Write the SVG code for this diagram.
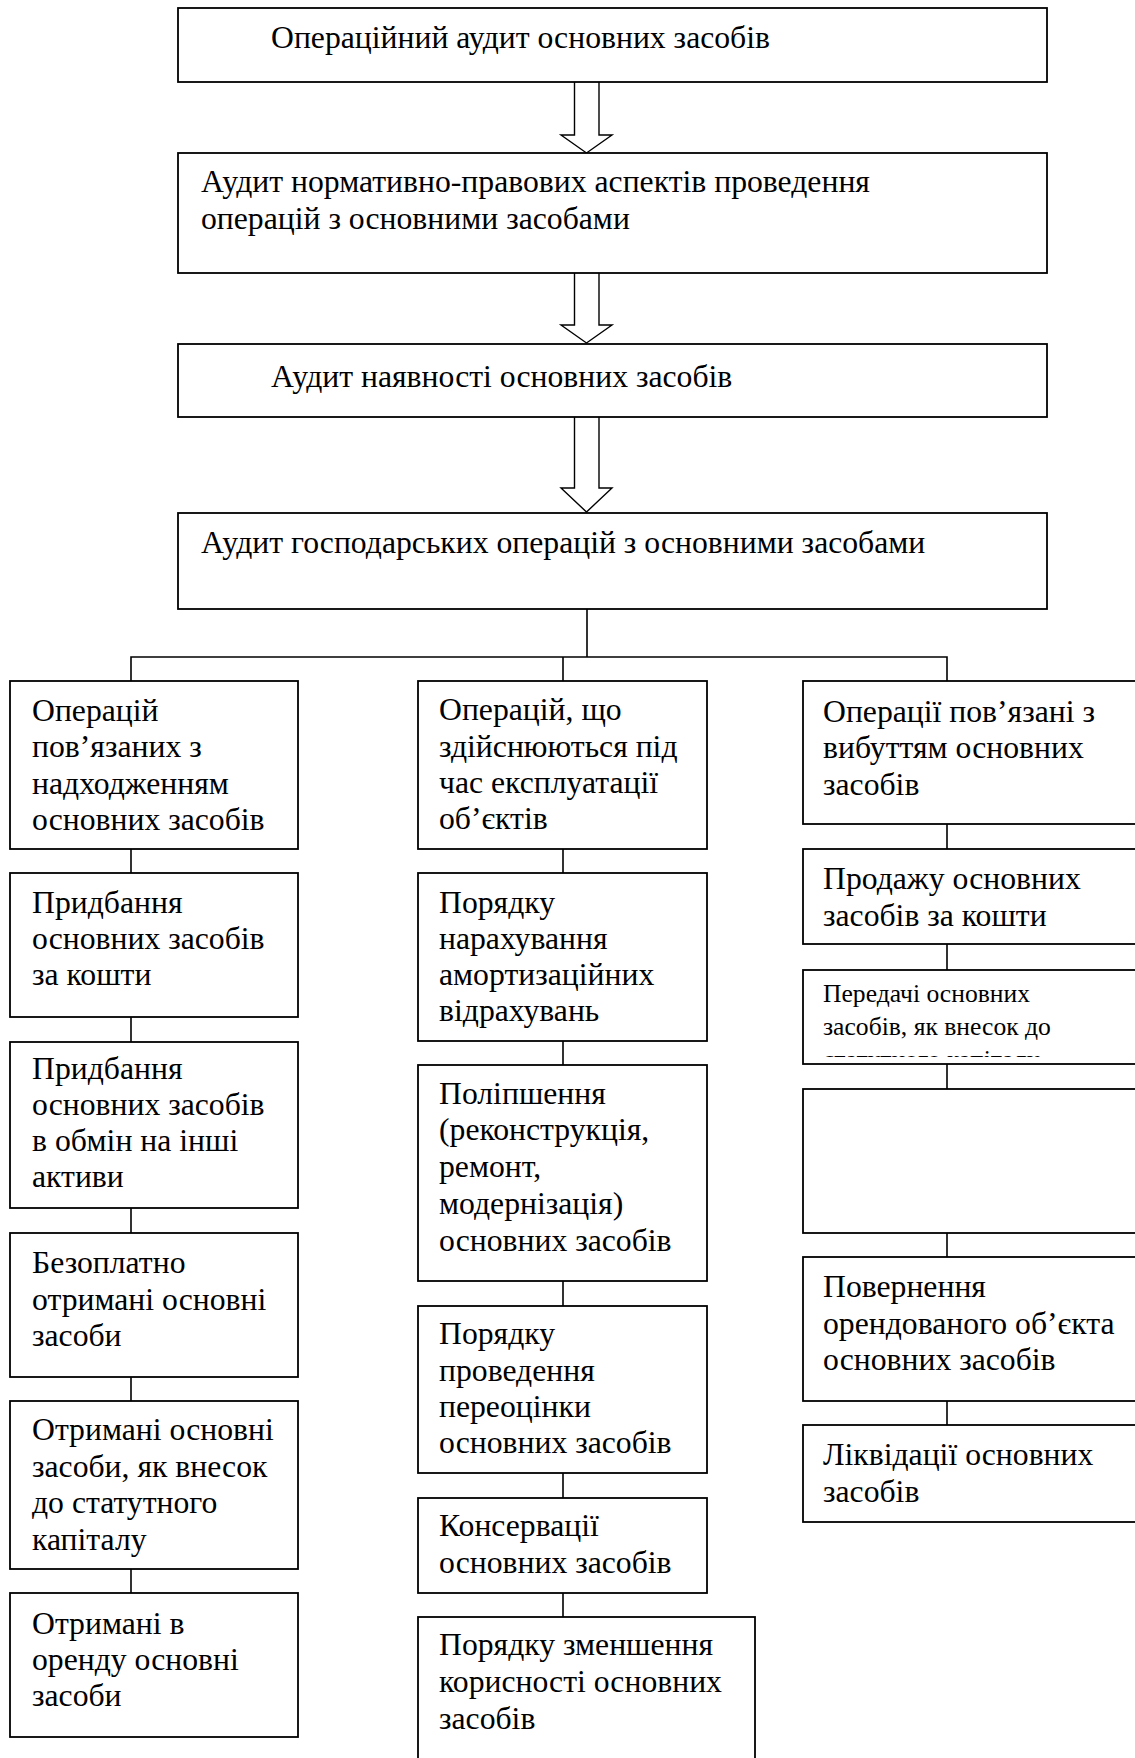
<svg xmlns="http://www.w3.org/2000/svg" width="1135" height="1758" viewBox="0 0 1135 1758">
<style>
.box{fill:#fff;stroke:#000;stroke-width:1.8}
.t{font-family:"Liberation Serif","Times New Roman",serif;font-size:31.7px;fill:#000}
.s{font-family:"Liberation Serif","Times New Roman",serif;font-size:25.6px;fill:#000}
.ln{fill:none;stroke:#000;stroke-width:1.6}
.arr{fill:#fff;stroke:#000;stroke-width:1.4;stroke-linejoin:miter}
</style>
<defs>
<clipPath id="r3clip"><rect x="803" y="970" width="340" height="87"/></clipPath>
</defs>
<rect width="1135" height="1758" fill="#fff"/>
<g id="connectors">
<path class="arr" d="M574.5,82 V135 H561 L586.5,153 L612,135 H599 V82"/>
<path class="arr" d="M574.5,273 V325 H561 L586.5,343 L612,325 H599 V273"/>
<path class="arr" d="M574.5,417 V488 H561 L586.5,512 L612,488 H599 V417"/>
<path class="ln" d="M587,609 V657 M131,681 V657 H947 V681 M563,657 V681"/>
<path class="ln" d="M131,849 V873 M131,1017 V1042 M131,1208 V1233 M131,1377 V1401 M131,1569 V1593"/>
<path class="ln" d="M563,849 V873 M563,1041 V1065 M563,1281 V1306 M563,1473 V1498 M563,1593 V1617"/>
<path class="ln" d="M947,824 V849 M947,944 V970 M947,1064 V1089 M947,1233 V1257 M947,1401 V1425"/>
</g>
<g id="n-top1"><rect class="box" x="178" y="8" width="869" height="74"/><text class="t" x="271" y="48">Операційний аудит основних засобів</text></g>
<g id="n-top2"><rect class="box" x="178" y="153" width="869" height="120"/><text class="t" x="201" y="192">Аудит нормативно-правових аспектів проведення</text><text class="t" x="201" y="229">операцій з основними засобами</text></g>
<g id="n-top3"><rect class="box" x="178" y="344" width="869" height="73"/><text class="t" x="271" y="387">Аудит наявності основних засобів</text></g>
<g id="n-top4"><rect class="box" x="178" y="513" width="869" height="96"/><text class="t" x="201" y="553">Аудит господарських операцій з основними засобами</text></g>

<g id="n-l1"><rect class="box" x="10" y="681" width="288" height="168"/><text class="t" x="32" y="721">Операцій</text><text class="t" x="32" y="757">пов’язаних з</text><text class="t" x="32" y="794">надходженням</text><text class="t" x="32" y="830">основних засобів</text></g>
<g id="n-l2"><rect class="box" x="10" y="873" width="288" height="144"/><text class="t" x="32" y="913">Придбання</text><text class="t" x="32" y="949">основних засобів</text><text class="t" x="32" y="985">за кошти</text></g>
<g id="n-l3"><rect class="box" x="10" y="1042" width="288" height="166"/><text class="t" x="32" y="1079">Придбання</text><text class="t" x="32" y="1115">основних засобів</text><text class="t" x="32" y="1151">в обмін на інші</text><text class="t" x="32" y="1187">активи</text></g>
<g id="n-l4"><rect class="box" x="10" y="1233" width="288" height="144"/><text class="t" x="32" y="1273">Безоплатно</text><text class="t" x="32" y="1310">отримані основні</text><text class="t" x="32" y="1346">засоби</text></g>
<g id="n-l5"><rect class="box" x="10" y="1401" width="288" height="168"/><text class="t" x="32" y="1440">Отримані основні</text><text class="t" x="32" y="1477">засоби, як внесок</text><text class="t" x="32" y="1513">до статутного</text><text class="t" x="32" y="1550">капіталу</text></g>
<g id="n-l6"><rect class="box" x="10" y="1593" width="288" height="144"/><text class="t" x="32" y="1634">Отримані в</text><text class="t" x="32" y="1670">оренду основні</text><text class="t" x="32" y="1706">засоби</text></g>

<g id="n-m1"><rect class="box" x="418" y="681" width="289" height="168"/><text class="t" x="439" y="720">Операцій, що</text><text class="t" x="439" y="757">здійснюються під</text><text class="t" x="439" y="793">час експлуатації</text><text class="t" x="439" y="829">об’єктів</text></g>
<g id="n-m2"><rect class="box" x="418" y="873" width="289" height="168"/><text class="t" x="439" y="913">Порядку</text><text class="t" x="439" y="949">нарахування</text><text class="t" x="439" y="985">амортизаційних</text><text class="t" x="439" y="1021">відрахувань</text></g>
<g id="n-m3"><rect class="box" x="418" y="1065" width="289" height="216"/><text class="t" x="439" y="1104">Поліпшення</text><text class="t" x="439" y="1140">(реконструкція,</text><text class="t" x="439" y="1177">ремонт,</text><text class="t" x="439" y="1214">модернізація)</text><text class="t" x="439" y="1251">основних засобів</text></g>
<g id="n-m4"><rect class="box" x="418" y="1306" width="289" height="167"/><text class="t" x="439" y="1344">Порядку</text><text class="t" x="439" y="1381">проведення</text><text class="t" x="439" y="1417">переоцінки</text><text class="t" x="439" y="1453">основних засобів</text></g>
<g id="n-m5"><rect class="box" x="418" y="1498" width="289" height="95"/><text class="t" x="439" y="1536">Консервації</text><text class="t" x="439" y="1573">основних засобів</text></g>
<g id="n-m6"><rect class="box" x="418" y="1617" width="337" height="200"/><text class="t" x="439" y="1655">Порядку зменшення</text><text class="t" x="439" y="1692">корисності основних</text><text class="t" x="439" y="1729">засобів</text></g>

<g id="n-r1"><rect class="box" x="803" y="681" width="340" height="143"/><text class="t" x="823" y="722">Операції пов’язані з</text><text class="t" x="823" y="758">вибуттям основних</text><text class="t" x="823" y="795">засобів</text></g>
<g id="n-r2"><rect class="box" x="803" y="849" width="340" height="95"/><text class="t" x="823" y="889">Продажу основних</text><text class="t" x="823" y="926">засобів за кошти</text></g>
<g id="n-r3"><rect class="box" x="803" y="970" width="340" height="94"/><text class="s" x="823" y="1002">Передачі основних</text><text class="s" x="823" y="1035">засобів, як внесок до</text><text class="s" x="823" y="1068" clip-path="url(#r3clip)">статутного капіталу</text></g>
<g id="n-r4"><rect class="box" x="803" y="1089" width="340" height="144"/></g>
<g id="n-r5"><rect class="box" x="803" y="1257" width="340" height="144"/><text class="t" x="823" y="1297">Повернення</text><text class="t" x="823" y="1334">орендованого об’єкта</text><text class="t" x="823" y="1370">основних засобів</text></g>
<g id="n-r6"><rect class="box" x="803" y="1425" width="340" height="97"/><text class="t" x="823" y="1465">Ліквідації основних</text><text class="t" x="823" y="1502">засобів</text></g>
</svg>
